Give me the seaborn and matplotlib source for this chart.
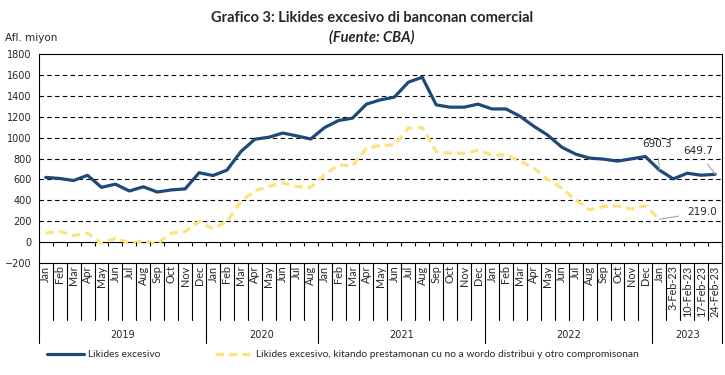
import numpy as np
import pandas as pd
import seaborn as sns
import matplotlib.pyplot as plt
import matplotlib.transforms as mtransforms

# Categories (multi-level axis: month / year)
months_2019 = ["Jan", "Feb", "Mar", "Apr", "May", "Jun", "Jul", "Aug", "Sep", "Oct", "Nov", "Dec"]
months_2020 = ["Jan", "Feb", "Mar", "Apr", "May", "Jun", "Jul", "Aug"]
months_2021 = ["Jan", "Feb", "Mar", "Apr", "May", "Jun", "Jul", "Aug", "Sep", "Oct", "Nov", "Dec"]
months_2022 = ["Jan", "Feb", "Mar", "Apr", "May", "Jun", "Jul", "Aug", "Sep", "Oct", "Nov", "Dec"]
months_2023 = ["Jan", "3-Feb-23", "10-Feb-23", "17-Feb-23", "24-Feb-23"]
years = ["2019", "2020", "2021", "2022", "2023"]

# Likides excesivo (Afl. miyon)
likides = [620, 610, 590, 640, 525, 555, 490, 530, 480, 500, 510, 665,
           638, 690, 868, 986, 1005, 1045, 1018, 988,
           1098, 1165, 1188, 1322, 1363, 1389, 1532, 1580, 1315, 1293, 1293, 1322,
           1276, 1276, 1207, 1110, 1025, 910, 843, 805, 795, 776, 798, 820,
           690.3, 606, 660, 641, 649.7]

# Likides excesivo, kitando prestamonan cu no a wordo distribui y otro compromisonan
likides_kit = [86, 102, 63, 86, -16, 38, -10, 12, -16, 86, 102, 197,
               127, 197, 389, 494, 533, 565, 533, 523,
               645, 740, 731, 900, 927, 932, 1092, 1098, 868, 852, 852, 880,
               836, 836, 775, 709, 600, 517, 405, 309, 341, 348, 316, 348,
               219.0, np.nan, np.nan, np.nan, np.nan]

groups = [months_2019, months_2020, months_2021, months_2022, months_2023]
labels = [m for g in groups for m in g]
pos = np.arange(len(labels))

df = pd.DataFrame({"pos": pos, "likides": likides, "kit": likides_kit})

sns.set_style("white")
plt.rcParams["font.family"] = ["DejaVu Sans"]
narrow = ["Lato", "DejaVu Sans"]

fig = plt.figure(figsize=(7.25, 3.75), dpi=100)
ax = fig.add_axes([0.0534, 0.2987, 0.9426, 0.5566])

blue = "#1d4a78"
yellow = "#fbe47c"

sns.lineplot(data=df, x="pos", y="likides", color=blue, lw=2.3, ax=ax,
             label="Likides excesivo")
sns.lineplot(data=df, x="pos", y="kit", color=yellow, lw=2.3, ax=ax,
             label="Likides excesivo, kitando prestamonan cu no a wordo distribui y otro compromisonan")
ax.lines[1].set_dashes((2.6, 1.6))

ax.set_xlim(-0.5, len(labels) - 0.5)
ax.set_ylim(-200, 1800)
ax.set_yticks(np.arange(-200, 1801, 200))
ax.tick_params(axis="y", direction="inout", length=6, width=0.8, labelsize=7, pad=2)
ax.set_xticks([])
ax.set_xlabel("")
ax.set_ylabel("")
for g in np.arange(200, 1700, 200):
    ax.axhline(g, color="black", lw=0.8, ls=(0, (4, 3)), zorder=0)
ax.axhline(0, color="black", lw=0.8, zorder=0)
for s in ax.spines.values():
    s.set_color("black")
    s.set_linewidth(0.8)

# tick marks on the zero line
bounds = np.arange(-0.5, len(labels), 1.0)
ax.vlines(bounds, -40, 0, color="black", lw=0.8)

# multi-level category axis
trans = mtransforms.blended_transform_factory(ax.transData, ax.transAxes)
for b in bounds:
    ax.plot([b, b], [0, -0.271], color="black", lw=0.8, transform=trans, clip_on=False)
for p, lab in zip(pos, labels):
    ax.text(p, -0.012, lab, rotation=90, ha="center", va="top", fontsize=7.8,
            family=narrow, transform=trans)
start = 0
for yr, g in zip(years, groups):
    end = start + len(g)
    ax.plot([start - 0.5, start - 0.5], [-0.271, -0.381], color="black", lw=0.8,
            transform=trans, clip_on=False)
    ax.text((start + end - 1) / 2, -0.347, yr, ha="center", va="center", fontsize=7,
            transform=trans)
    start = end
ax.plot([start - 0.5, start - 0.5], [-0.271, -0.381], color="black", lw=0.8,
        transform=trans, clip_on=False)

# value labels
def note(i, val, dx, dy):
    ax.annotate(f"{val:.1f}", xy=(i, val), xytext=(dx, dy), textcoords="offset pixels",
                ha="center", va="center", fontsize=7.5,
                arrowprops=dict(arrowstyle="-", color="#a6a6a6", lw=0.8, shrinkA=4, shrinkB=0))

note(44, likides[44], -2, 26)
note(48, likides[48], -17, 23)
note(44, likides_kit[44], 43, 7)

ax.legend(loc="center left", bbox_to_anchor=(0.058, 0.054), bbox_transform=fig.transFigure,
          ncol=2, frameon=False, handlelength=3.6, columnspacing=5.3,
          prop={"family": narrow, "size": 7.4}, handletextpad=0.4, borderpad=0)

fig.text(0.513, 0.953, "Grafico 3: Likides excesivo di banconan comercial",
         ha="center", va="center", fontsize=10.5, family=narrow, fontweight="bold")
fig.text(0.513, 0.9, "(Fuente: CBA)", ha="center", va="center", fontsize=10.5,
         family=narrow, fontweight="bold", style="italic")
fig.text(0.007, 0.898, "Afl. miyon", ha="left", va="center", fontsize=7.5)

fig.savefig("out.png", dpi=100)
